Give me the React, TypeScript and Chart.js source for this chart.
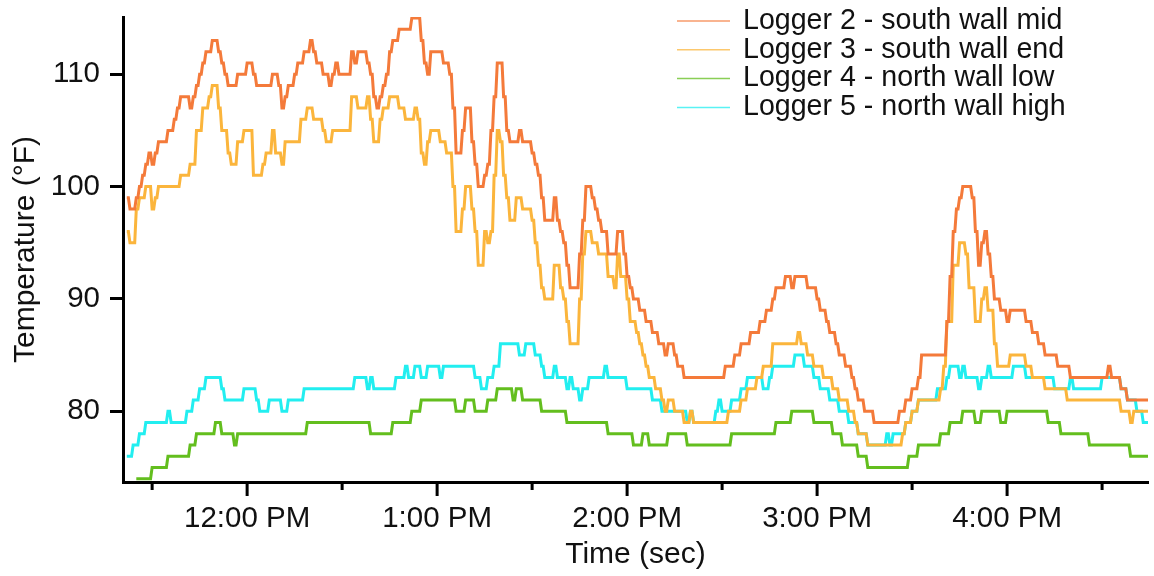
import React, { useEffect, useRef } from 'react';
import { Chart, registerables } from 'chart.js';

Chart.register(...registerables);

// Series labels and colours
const seriesLabels = [
  'Logger 2 - south wall mid',
  'Logger 3 - south wall end',
  'Logger 4 - north wall low',
  'Logger 5 - north wall high',
];
const seriesColors = ['#F47A3A', '#FBB53C', '#63BE1E', '#22EEF0'];

// Logged change points: [minutes since midnight, temperature °F]; each value is held until the next entry
const logger2Steps: [number, number][] = [
  [682, 99], [683, 98], [685, 99], [686, 100], [687, 101], [688, 102], [689, 103], [690, 102], [691, 103], [692, 104],
  [695, 105], [697, 106], [698, 107], [699, 108], [702, 107], [703, 108], [704, 109], [705, 110], [706, 111], [707, 112],
  [709, 113], [711, 112], [712, 111], [713, 110], [714, 109], [717, 110], [720, 111], [722, 110], [723, 109], [728, 110],
  [730, 109], [731, 107], [732, 108], [733, 109], [735, 110], [736, 111], [738, 112], [740, 113], [741, 112], [742, 111],
  [744, 110], [746, 109], [747, 110], [748, 111], [749, 110], [753, 112], [754, 111], [755, 112], [758, 111], [759, 110],
  [760, 108], [761, 107], [762, 108], [763, 109], [764, 110], [765, 112], [766, 113], [768, 114], [772, 115], [775, 113],
  [776, 111], [777, 110], [778, 112], [782, 111], [784, 110], [785, 107], [786, 103], [788, 105], [789, 107], [791, 104],
  [792, 102], [793, 100], [795, 101], [796, 102], [797, 105], [798, 108], [799, 111], [801, 108], [802, 105], [803, 104],
  [806, 105], [807, 104], [810, 103], [811, 102], [812, 101], [813, 99], [814, 97], [817, 99], [818, 97], [819, 96],
  [820, 95], [821, 93], [822, 91], [825, 94], [826, 97], [827, 100], [829, 99], [830, 98], [831, 97], [832, 96],
  [834, 94], [837, 96], [839, 94], [840, 92], [841, 91], [842, 90], [844, 89], [846, 88], [848, 87], [850, 86],
  [852, 85], [853, 86], [855, 85], [856, 84], [858, 83], [871, 84], [874, 85], [876, 86], [879, 87], [882, 88],
  [884, 89], [886, 90], [887, 91], [890, 92], [892, 91], [893, 92], [897, 91], [900, 90], [901, 89], [903, 88],
  [904, 87], [906, 86], [907, 85], [909, 84], [911, 83], [912, 82], [913, 81], [915, 80], [918, 79], [926, 80],
  [928, 81], [930, 82], [932, 83], [933, 85], [941, 88], [942, 92], [943, 96], [944, 98], [945, 99], [946, 100],
  [949, 99], [950, 96], [951, 93], [952, 95], [953, 96], [954, 94], [955, 92], [956, 90], [958, 89], [960, 88],
  [961, 89], [966, 88], [968, 87], [970, 86], [972, 85], [976, 84], [980, 83], [992, 84], [993, 83], [996, 82],
  [998, 81], [1005, 81],
];

const logger3Steps: [number, number][] = [
  [682, 96], [683, 95], [685, 98], [686, 99], [688, 100], [690, 98], [691, 99], [692, 100], [699, 101], [702, 102],
  [704, 105], [706, 107], [708, 108], [709, 109], [711, 107], [712, 105], [714, 103], [715, 102], [717, 104], [719, 105],
  [722, 101], [725, 102], [726, 103], [728, 105], [729, 103], [731, 102], [732, 104], [737, 106], [739, 107], [741, 106],
  [744, 105], [745, 104], [747, 105], [753, 108], [755, 107], [758, 108], [759, 106], [760, 104], [762, 106], [763, 107],
  [765, 108], [768, 107], [770, 106], [773, 107], [774, 106], [775, 103], [776, 102], [777, 104], [778, 105], [781, 104],
  [783, 103], [785, 100], [786, 96], [788, 98], [789, 100], [791, 98], [792, 96], [793, 93], [795, 96], [796, 95],
  [797, 96], [798, 101], [799, 105], [800, 104], [801, 101], [802, 99], [803, 97], [805, 99], [807, 98], [810, 97],
  [811, 95], [812, 93], [813, 91], [814, 90], [817, 93], [819, 91], [820, 90], [821, 88], [822, 86], [825, 90],
  [826, 94], [827, 96], [829, 95], [831, 94], [834, 92], [836, 91], [837, 94], [838, 92], [840, 90], [841, 88],
  [843, 87], [844, 86], [845, 85], [846, 84], [847, 83], [849, 82], [851, 81], [852, 80], [853, 81], [855, 80],
  [858, 79], [860, 80], [861, 79], [872, 80], [876, 81], [878, 82], [881, 83], [883, 84], [886, 86], [894, 87],
  [895, 86], [897, 85], [899, 84], [902, 83], [905, 82], [907, 81], [910, 80], [912, 79], [913, 78], [916, 77],
  [927, 78], [928, 79], [930, 80], [932, 81], [939, 82], [940, 84], [941, 88], [943, 93], [945, 95], [947, 94],
  [948, 91], [950, 88], [952, 90], [953, 91], [954, 89], [956, 86], [957, 84], [961, 85], [966, 84], [968, 83],
  [972, 82], [979, 81], [996, 80], [999, 79], [1000, 80], [1005, 80],
];

const logger4Steps: [number, number][] = [
  [685, 74], [690, 75], [695, 76], [702, 77], [704, 78], [710, 79], [712, 78], [716, 77], [717, 78], [739, 79],
  [759, 78], [766, 79], [772, 80], [775, 81], [786, 80], [789, 81], [792, 80], [796, 81], [799, 82], [804, 81],
  [805, 82], [807, 81], [813, 80], [821, 79], [834, 78], [842, 77], [845, 78], [847, 77], [853, 78], [859, 77],
  [873, 78], [887, 79], [892, 80], [899, 79], [905, 78], [908, 77], [913, 76], [916, 75], [929, 76], [932, 77],
  [939, 78], [942, 79], [946, 80], [950, 79], [952, 80], [958, 79], [960, 80], [973, 79], [977, 78], [986, 77],
  [999, 76], [1005, 76],
];

const logger5Steps: [number, number][] = [
  [682, 76], [684, 77], [686, 78], [688, 79], [695, 80], [696, 79], [701, 80], [703, 81], [705, 82], [707, 83],
  [712, 82], [713, 81], [719, 82], [723, 81], [724, 80], [727, 81], [731, 80], [733, 81], [738, 82], [754, 83],
  [758, 82], [759, 83], [760, 82], [767, 83], [770, 84], [771, 83], [773, 84], [775, 83], [777, 84], [781, 83],
  [782, 84], [792, 83], [794, 82], [796, 83], [798, 84], [800, 86], [806, 85], [808, 86], [811, 85], [813, 84],
  [814, 83], [817, 84], [818, 83], [821, 82], [822, 83], [823, 82], [825, 81], [826, 82], [828, 83], [833, 84],
  [834, 83], [840, 82], [848, 81], [851, 80], [859, 79], [860, 80], [861, 79], [868, 80], [869, 81], [870, 80],
  [873, 81], [876, 82], [878, 83], [883, 82], [885, 83], [886, 84], [893, 85], [896, 84], [899, 83], [901, 82],
  [904, 81], [907, 80], [910, 79], [913, 78], [916, 77], [922, 78], [923, 77], [924, 78], [928, 79], [930, 80],
  [932, 81], [938, 82], [941, 83], [942, 84], [945, 83], [946, 84], [947, 83], [951, 82], [952, 83], [954, 84],
  [955, 83], [962, 84], [966, 83], [975, 82], [980, 83], [981, 82], [990, 83], [996, 82], [998, 81], [1001, 80],
  [1003, 79], [1005, 79],
];

// Axis ticks
const hourTickMinutes = [720, 780, 840, 900, 960];
const hourTickLabels = ['12:00 PM', '1:00 PM', '2:00 PM', '3:00 PM', '4:00 PM'];
const halfHourTickMinutes = [690, 750, 810, 870, 930, 990];
const yTickValues = [80, 90, 100, 110];

const FONT = '"Liberation Sans", Arial, Helvetica, sans-serif';
const SAMPLE_MINUTES = 0.5; // logger sampling interval

// A logged value is held until the sample just before the next change.
function toSamples(steps: [number, number][]) {
  const pts: { x: number; y: number }[] = [];
  steps.forEach(([t, v], i) => {
    pts.push({ x: t, y: v });
    const next = steps[i + 1];
    if (next && next[0] - t > SAMPLE_MINUTES) pts.push({ x: next[0] - SAMPLE_MINUTES, y: v });
  });
  return pts;
}

const axisTicksPlugin = {
  id: 'axisTicks',
  afterDraw(chart: any) {
    const ctx = chart.ctx;
    const sx = chart.scales.x;
    const y0 = chart.chartArea.bottom;
    ctx.save();
    ctx.strokeStyle = '#000';
    ctx.lineWidth = 3;
    ctx.beginPath();
    hourTickMinutes.forEach((m) => {
      const x = sx.getPixelForValue(m);
      ctx.moveTo(x, y0);
      ctx.lineTo(x, y0 + 14);
    });
    halfHourTickMinutes.forEach((m) => {
      const x = sx.getPixelForValue(m);
      ctx.moveTo(x, y0);
      ctx.lineTo(x, y0 + 8);
    });
    ctx.stroke();
    ctx.restore();
  },
};

const legendPlugin = {
  id: 'cornerLegend',
  afterDraw(chart: any) {
    const ctx = chart.ctx;
    const area = chart.chartArea;
    const lineX0 = area.right - 471;
    const lineX1 = area.right - 418;
    const textX = area.right - 405;
    const top = area.top + 4;
    const row = 28.8;
    ctx.save();
    chart.data.datasets.forEach((ds: any, i: number) => {
      const y = top + i * row;
      ctx.strokeStyle = ds.borderColor;
      ctx.globalAlpha = 0.75;
      ctx.lineWidth = 1.5;
      ctx.beginPath();
      ctx.moveTo(lineX0, y);
      ctx.lineTo(lineX1, y);
      ctx.stroke();
      ctx.globalAlpha = 1;
      ctx.fillStyle = '#111';
      ctx.font = `28.6px ${FONT}`;
      ctx.textBaseline = 'middle';
      ctx.textAlign = 'left';
      ctx.fillText(ds.label, textX, y);
    });
    ctx.restore();
  },
};

export default function App() {
  const canvasRef = useRef<HTMLCanvasElement | null>(null);

  useEffect(() => {
    if (!canvasRef.current) return;
    const allSteps = [logger2Steps, logger3Steps, logger4Steps, logger5Steps];
    const chart = new Chart(canvasRef.current, {
      type: 'line',
      data: {
        datasets: allSteps.map((steps, i) => ({
          label: seriesLabels[i],
          data: toSamples(steps),
          borderColor: seriesColors[i],
          backgroundColor: seriesColors[i],
          borderWidth: 3,
          borderJoinStyle: 'miter' as const,
          pointRadius: 0,
          tension: 0,
          fill: false,
        })),
      },
      options: {
        animation: false,
        responsive: true,
        maintainAspectRatio: false,
        layout: { padding: { top: 17, right: 6, left: 0, bottom: 0 } },
        plugins: {
          legend: { display: false },
          tooltip: { enabled: false },
        },
        scales: {
          x: {
            type: 'linear',
            min: 680.8,
            max: 1004.5,
            afterBuildTicks: (scale: any) => {
              scale.ticks = hourTickMinutes.map((v) => ({ value: v }));
            },
            afterFit: (scale: any) => {
              scale.height = 94;
              scale.paddingLeft = 0;
              scale.paddingRight = 0;
            },
            grid: { display: false, drawTicks: false },
            border: { display: true, color: '#000', width: 3 },
            ticks: {
              autoSkip: false,
              maxRotation: 0,
              padding: 19,
              color: '#111',
              font: { family: FONT, size: 29.5 },
              callback: (value: any) => {
                const idx = hourTickMinutes.indexOf(Number(value));
                return idx >= 0 ? hourTickLabels[idx] : '';
              },
            },
            title: {
              display: true,
              text: 'Time (sec)',
              color: '#111',
              font: { family: FONT, size: 30 },
              padding: { top: 0, bottom: 3 },
            },
          },
          y: {
            type: 'linear',
            min: 73.7,
            max: 115.1,
            afterBuildTicks: (scale: any) => {
              scale.ticks = yTickValues.map((v) => ({ value: v }));
            },
            afterFit: (scale: any) => {
              scale.width = 123;
              scale.paddingTop = 0;
              scale.paddingBottom = 0;
            },
            grid: {
              display: true,
              drawOnChartArea: false,
              drawTicks: true,
              tickLength: 13,
              tickWidth: 3,
              tickColor: '#000',
            },
            border: { display: true, color: '#000', width: 3 },
            ticks: {
              padding: 10,
              color: '#111',
              font: { family: FONT, size: 29.5 },
            },
            title: {
              display: true,
              text: 'Temperature (°F)',
              color: '#111',
              font: { family: FONT, size: 30 },
              padding: { top: 8, bottom: 0 },
            },
          },
        },
      },
      plugins: [axisTicksPlugin, legendPlugin],
    });
    return () => chart.destroy();
  }, []);

  return (
    <div style={{ position: 'fixed', left: 0, top: 0, width: 1154, height: 576, background: '#fff' }}>
      <canvas ref={canvasRef} />
    </div>
  );
}
